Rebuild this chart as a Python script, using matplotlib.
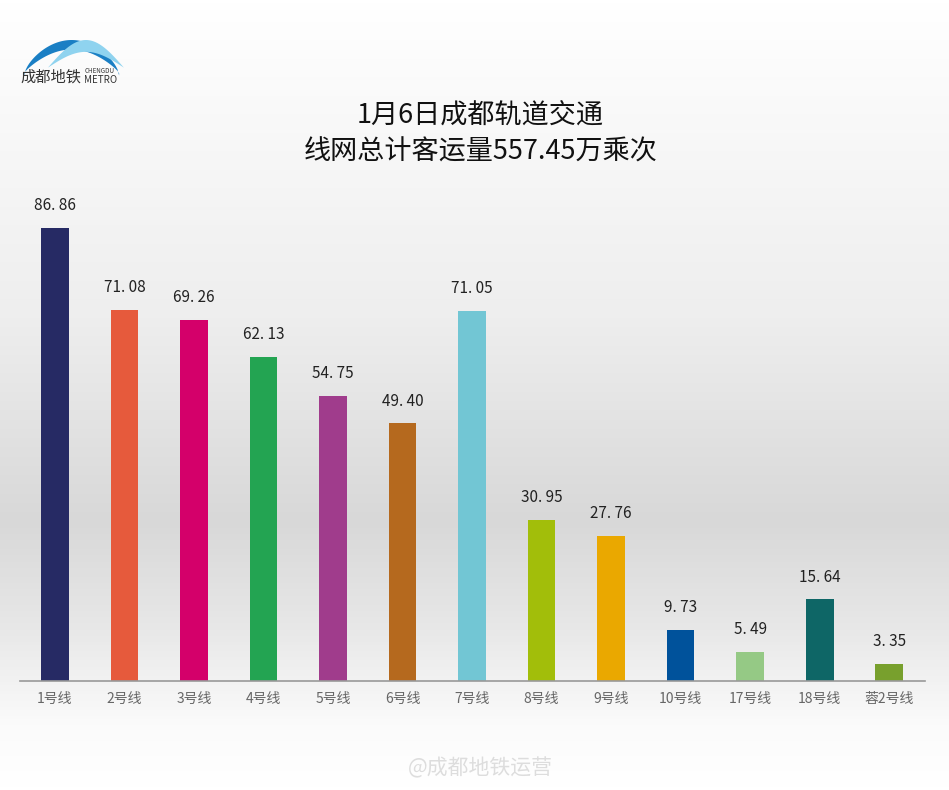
import numpy as np
import matplotlib.pyplot as plt
from matplotlib.colors import LinearSegmentedColormap

plt.rcParams['font.family'] = ['Noto Sans CJK SC', 'DejaVu Sans']

lines = ['1号线', '2号线', '3号线', '4号线', '5号线', '6号线', '7号线',
         '8号线', '9号线', '10号线', '17号线', '18号线', '蓉2号线']
riders = [86.86, 71.08, 69.26, 62.13, 54.75, 49.40, 71.05,
          30.95, 27.76, 9.73, 5.49, 15.64, 3.35]
colors = ['#262a64', '#e65a3c', '#d4006a', '#23a452', '#a03c8c', '#b5691e',
          '#72c6d4', '#a2be0a', '#eaa800', '#00529b', '#95c985', '#0e6666',
          '#78a02d']
title = '1月6日成都轨道交通\n线网总计客运量557.45万乘次'

fig = plt.figure(figsize=(9.49, 7.9), dpi=100)

# background gradient: white top, light grey band, white bottom
bg = fig.add_axes([0, 0, 1, 1], zorder=-1)
grad = LinearSegmentedColormap.from_list(
    'bg', [(0, '#ffffff'), (0.12, '#fafafa'), (0.40, '#eeeeee'),
           (0.66, '#d8d8d8'), (0.80, '#e8e8e8'), (0.92, '#fbfbfb'), (1, '#ffffff')])
bg.imshow(np.linspace(0, 1, 256).reshape(-1, 1), aspect='auto', cmap=grad,
          extent=[0, 1, 1, 0])
bg.set_xlim(0, 1)
bg.set_ylim(1, 0)
# rough logo swoosh
t = np.linspace(0, 1, 60)
bg.fill_between(0.025 + 0.10 * t, 0.095 - 0.045 * np.sin(np.pi * t) ** 0.6,
                0.092 - 0.03 * np.sin(np.pi * t) ** 0.8, color='#1a7fc4', lw=0)
bg.fill_between(0.05 + 0.08 * t, 0.085 - 0.035 * np.sin(np.pi * t), 0.085 - 0.02 * np.sin(np.pi * t),
                color='#8fd3ef', lw=0)
bg.set_axis_off()

ax = fig.add_axes([0.021, 0.138, 0.954, 0.627])
ax.patch.set_alpha(0)
x = np.arange(len(lines))
ax.bar(x, riders, width=0.40, color=colors, zorder=2)
for xi, v in zip(x, riders):
    ax.annotate(f'{v:.2f}'.replace('.', '. '), (xi, v), xytext=(0, 10),
                textcoords='offset points', ha='center', va='bottom',
                fontsize=11, color='#222222')

ax.set_xlim(-0.504, 12.52)
ax.set_ylim(0, 95)
for s in ['top', 'right', 'left']:
    ax.spines[s].set_visible(False)
ax.spines['bottom'].set_color('#999999')
ax.spines['bottom'].set_linewidth(1.2)
ax.set_yticks([])
ax.set_xticks(x)
ax.set_xticklabels(lines, fontsize=10, color='#666666')
ax.tick_params(axis='x', length=0, pad=8)

fig.text(0.506, 0.83, title, ha='center', va='center', fontsize=19.5,
         color='#111111', linespacing=1.45, fontweight='medium')

# logo text
fig.text(0.022, 0.903, '成都地铁', fontsize=11, color='#333333', va='center')
fig.text(0.089, 0.91, 'CHENGDU', fontsize=4.5, color='#333333', va='center')
fig.text(0.089, 0.899, 'METRO', fontsize=7, color='#333333', va='center')

# watermark
fig.text(0.43, 0.028, '@成都地铁运营', fontsize=15, color='#dddddd', va='center')

fig.savefig('out.png', dpi=100)
